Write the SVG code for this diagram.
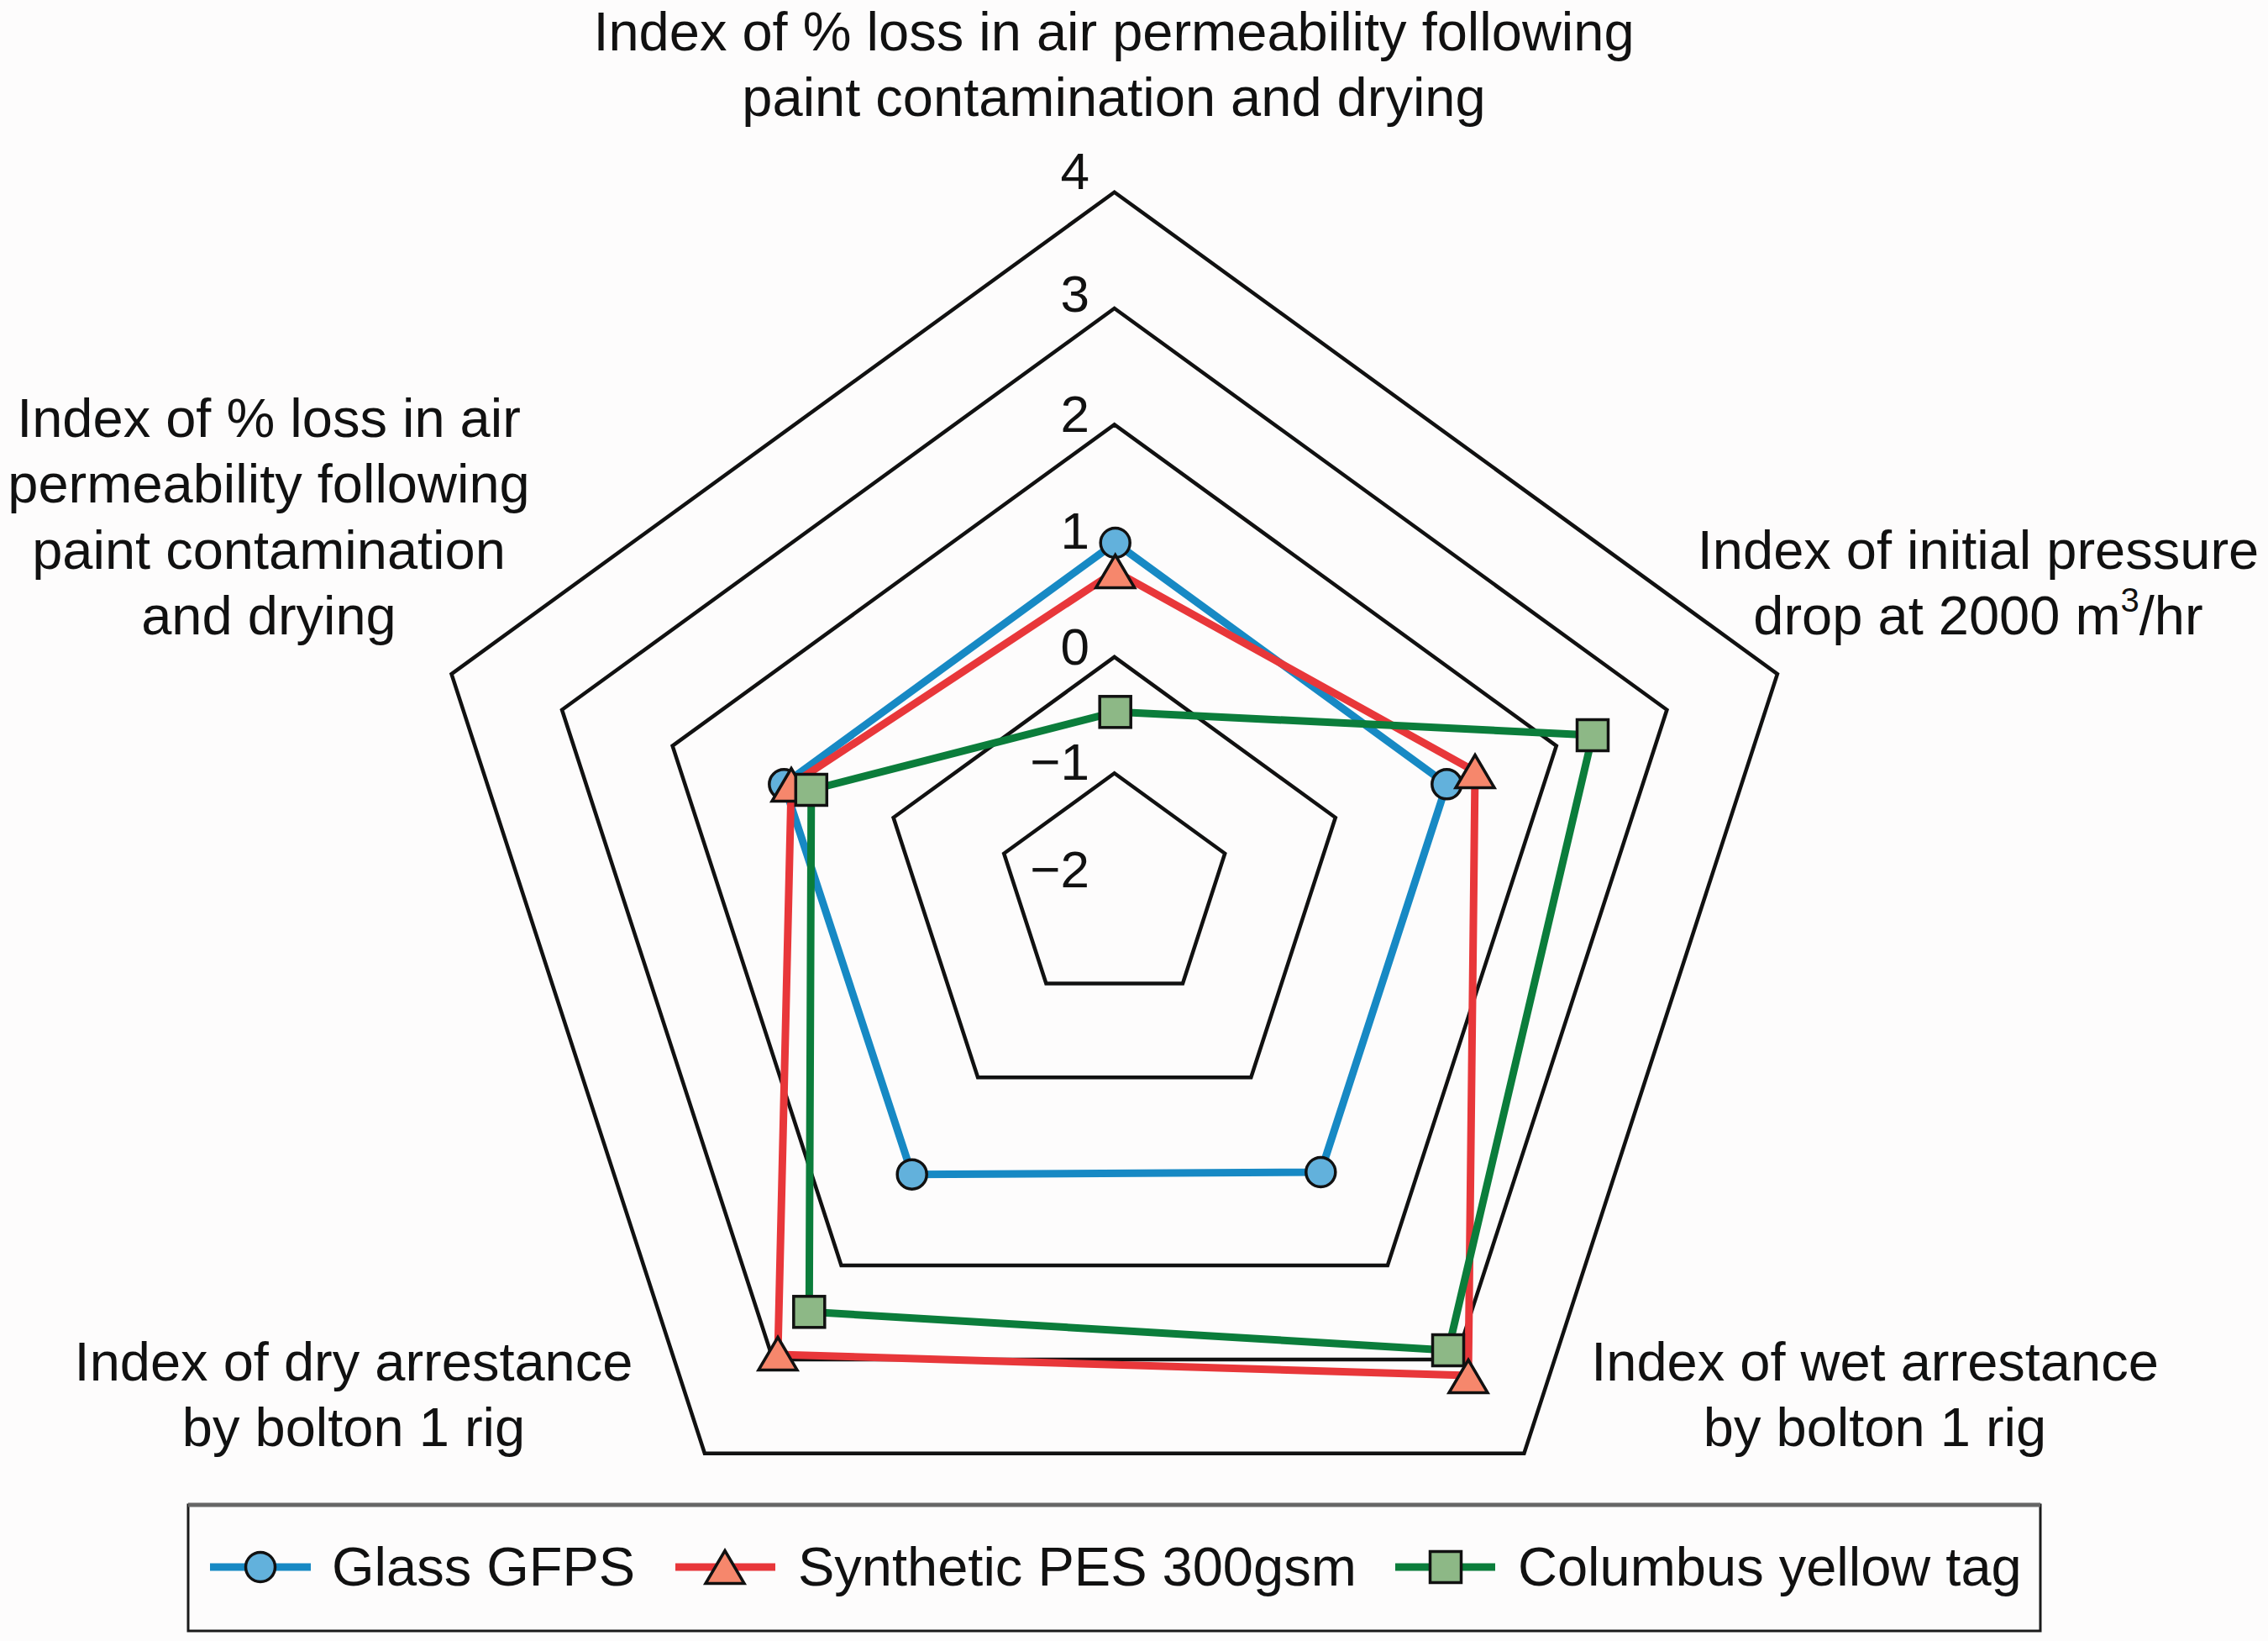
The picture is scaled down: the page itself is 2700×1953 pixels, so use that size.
<svg xmlns="http://www.w3.org/2000/svg" xmlns:xlink="http://www.w3.org/1999/xlink" width="2700" height="1953" viewBox="0 0 2700 1953">
<style>
text{font-family:"Liberation Sans",Arial,sans-serif;fill:#111;}
.lab{font-size:65px;text-anchor:middle;}
.num{font-size:62px;text-anchor:end;}
.leg{font-size:65px;}
.ring{fill:none;stroke:#111;stroke-width:4.5;stroke-linejoin:miter;}
.sb{fill:none;stroke:#1789c4;stroke-width:9;stroke-linejoin:round;}
.sr{fill:none;stroke:#e8373a;stroke-width:9;stroke-linejoin:round;}
.sg{fill:none;stroke:#0b7d3b;stroke-width:9;stroke-linejoin:round;}
.mc{fill:#62b1dc;stroke:#111;stroke-width:3.5;}
.mt{fill:#f6876c;stroke:#111;stroke-width:3.5;stroke-linejoin:miter;}
.ms{fill:#8db886;stroke:#111;stroke-width:3.5;}
</style>
<defs>
<circle id="circ" cx="0" cy="0" r="17.5" class="mc"/>
<path id="tri" d="M0,-19.5 L23,19.5 L-23,19.5 Z" class="mt"/>
<rect id="sq" x="-18.5" y="-18.5" width="37" height="37" class="ms"/>
</defs>
<rect width="2700" height="1953" fill="#fdfcfc"/>

<g id="grid">
<polygon class="ring" points="1326.7,228.7 2115.9,802.1 1814.4,1729.8 838.9,1729.8 537.5,802.1"/>
<polygon class="ring" points="1326.7,367.0 1984.4,844.8 1733.2,1617.9 920.2,1617.9 669.0,844.8"/>
<polygon class="ring" points="1326.7,505.3 1852.8,887.6 1651.9,1506.0 1001.5,1506.0 800.6,887.6"/>
<polygon class="ring" points="1326.7,781.9 1589.8,973.0 1489.3,1282.3 1164.1,1282.3 1063.6,973.0"/>
<polygon class="ring" points="1326.7,920.2 1458.2,1015.8 1408.0,1170.4 1245.4,1170.4 1195.2,1015.8"/>
</g>

<g id="scale">
<text class="num" x="1297" y="225">4</text>
<text class="num" x="1297" y="371">3</text>
<text class="num" x="1297" y="514">2</text>
<text class="num" x="1297" y="653">1</text>
<text class="num" x="1297" y="791">0</text>
<text class="num" x="1297" y="928">−1</text>
<text class="num" x="1297" y="1056">−2</text>
</g>

<g id="axis-labels">
<text class="lab" x="1326" y="60">Index of % loss in air permeability following</text>
<text class="lab" x="1326" y="138">paint contamination and drying</text>
<text class="lab" x="320" y="520">Index of % loss in air</text>
<text class="lab" x="320" y="598">permeability following</text>
<text class="lab" x="320" y="677">paint contamination</text>
<text class="lab" x="320" y="755">and drying</text>
<text class="lab" x="2355" y="677">Index of initial pressure</text>
<text class="lab" x="2355" y="755">drop at 2000 m<tspan font-size="40" dy="-27">3</tspan><tspan dy="27">/hr</tspan></text>
<text class="lab" x="421" y="1643">Index of dry arrestance</text>
<text class="lab" x="421" y="1721">by bolton 1 rig</text>
<text class="lab" x="2232" y="1643">Index of wet arrestance</text>
<text class="lab" x="2232" y="1721">by bolton 1 rig</text>
</g>

<g id="connectors">
<polygon class="sb" points="1327.7,646 1722.3,933.3 1572.3,1395 1085.7,1397.7 933.3,933.3"/>
<polygon class="sr" points="1327.7,680 1756,918 1748,1637 926,1612 942,934"/>
<polygon class="sg" points="1327.7,847.3 1896,875 1724,1607 963.3,1561.3 965.8,940"/>
</g>

<g id="markers-glass">
<use xlink:href="#circ" x="1327.7" y="646"/>
<use xlink:href="#circ" x="1722.3" y="933.3"/>
<use xlink:href="#circ" x="1572.3" y="1395"/>
<use xlink:href="#circ" x="1085.7" y="1397.7"/>
<use xlink:href="#circ" x="933.3" y="933.3"/>
</g>
<g id="markers-pes">
<use xlink:href="#tri" x="1327.7" y="680"/>
<use xlink:href="#tri" x="1756" y="918"/>
<use xlink:href="#tri" x="1748" y="1638"/>
<use xlink:href="#tri" x="926" y="1611"/>
<use xlink:href="#tri" x="942" y="934"/>
</g>
<g id="markers-columbus">
<use xlink:href="#sq" x="1327.7" y="847.3"/>
<use xlink:href="#sq" x="1896" y="875"/>
<use xlink:href="#sq" x="1724" y="1607"/>
<use xlink:href="#sq" x="963.3" y="1561.3"/>
<use xlink:href="#sq" x="965.8" y="940"/>
</g>

<g id="legend">
<rect x="224" y="1791" width="2205" height="150" fill="none" stroke="#1a1a1a" stroke-width="3"/>
<line x1="224" y1="1791" x2="2429" y2="1791" stroke="#666" stroke-width="5"/>
<line x1="250" y1="1865" x2="370" y2="1865" class="sb"/>
<use xlink:href="#circ" x="310" y="1865"/>
<text class="leg" x="395" y="1887">Glass GFPS</text>
<line x1="804" y1="1865" x2="923" y2="1865" class="sr"/>
<use xlink:href="#tri" x="863" y="1865"/>
<text class="leg" x="950" y="1887">Synthetic PES 300gsm</text>
<line x1="1661" y1="1865" x2="1780" y2="1865" class="sg"/>
<use xlink:href="#sq" x="1721" y="1865"/>
<text class="leg" x="1807" y="1887">Columbus yellow tag</text>
</g>
</svg>
